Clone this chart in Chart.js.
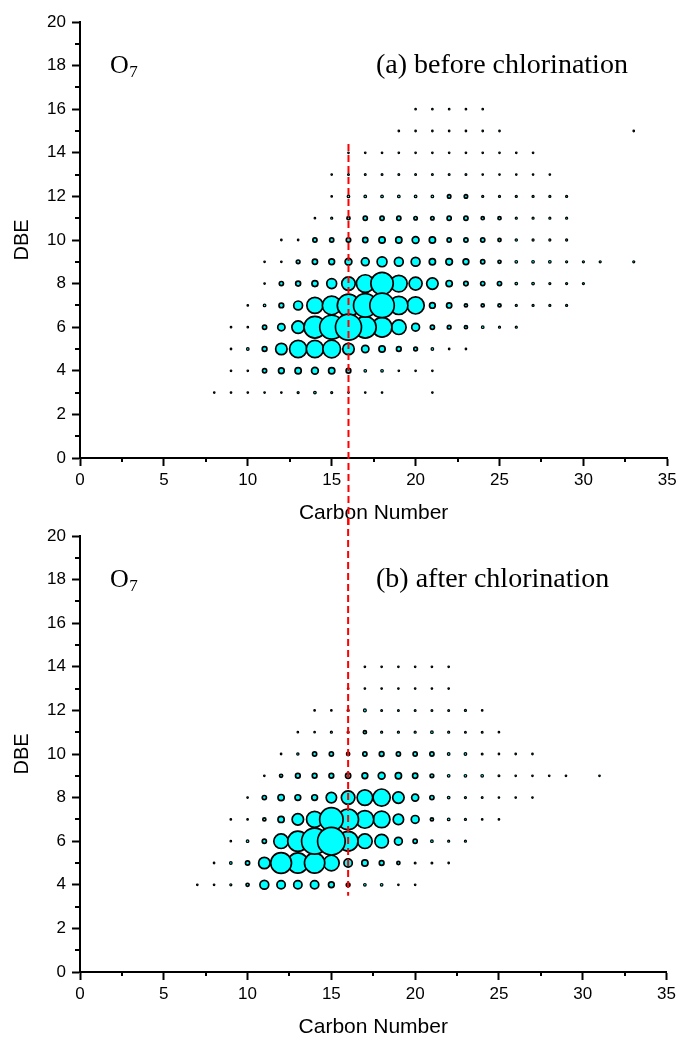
<!DOCTYPE html>
<html>
<head>
<meta charset="utf-8">
<script src="https://cdn.jsdelivr.net/npm/chart.js@4.4.1/dist/chart.umd.min.js"></script>
<style>
  body { margin: 0; background: #fff; width: 682px; height: 1040px; position: relative; overflow: hidden; }
  canvas { position: absolute; left: 0; }
  #before { top: 0; }
  #after { top: 514px; }
</style>
</head>
<body>
<canvas id="before" width="682" height="526"></canvas>
<canvas id="after" width="682" height="526"></canvas>
<script>
// O7 class: relative abundance by carbon number (x) and DBE (y)
// each row: [DBE, first carbon number, abundances...] (null = not detected)
const beforeRows = [
  [16, 20, [6, 6, 6, 6, 6]],
  [15, 19, [6, 6, 6, 6, 6, 6, 6, null, null, null, null, null, null, null, 6]],
  [14, 16, [6, 6, 6, 6, 6, 6, 6, 6, 6, 6, 6, 6]],
  [13, 15, [6, 7, 7, 7, 7, 7, 7, 7, 7, 6, 6, 6, 6, 6]],
  [12, 15, [6, 10, 10, 10, 10, 10, 10, 13, 13, 8, 8, 8, 8, 8, 8]],
  [11, 14, [6, 8, 12, 16, 16, 16, 13, 13, 16, 16, 12, 12, 8, 8, 8, 8]],
  [10, 12, [6, 6, 16, 16, 17, 20, 24, 24, 26, 24, 16, 16, 16, 12, 9, 8, 8, 8]],
  [9, 11, [6, 6, 14, 20, 22, 26, 30, 38, 34, 34, 24, 25, 22, 16, 12, 10, 10, 10, 8, 8, 8, null, 8]],
  [8, 11, [6, 16, 19, 23, 38, 52, 68, 86, 64, 50, 44, 24, 17, 16, 16, 10, 10, 8, 8, 8]],
  [7, 10, [6, 10, 18, 34, 62, 72, 86, 90, 94, 70, 66, 22, 20, 12, 12, 12, 8, 8, 8, 8]],
  [6, 9, [6, 6, 16, 28, 48, 84, 92, 100, 84, 76, 56, 30, 16, 14, 12, 10, 8, 8]],
  [5, 9, [6, 10, 18, 44, 66, 66, 68, 44, 28, 24, 18, 14, 10, 6, 6]],
  [4, 9, [6, 6, 16, 22, 24, 26, 24, 18, 10, 10, 6, 6, 6]],
  [3, 8, [6, 6, 6, 6, 6, 8, 10, 8, 6, 6, 6, null, null, 6]]
];

const afterRows = [
  [14, 17, [6, 6, 6, 6, 6, 6]],
  [13, 16, [6, 6, 6, 6, 6, 6, 6]],
  [12, 14, [6, 6, 8, 11, 7, 7, 7, 7, 7, 8, 6]],
  [11, 13, [6, 6, 8, 8, 12, 8, 8, 8, 10, 8, 7, 7, 6]],
  [10, 12, [6, 9, 16, 16, 12, 16, 18, 16, 16, 16, 10, 10, 7, 6, 6, 6]],
  [9, 11, [6, 12, 18, 18, 18, 20, 22, 26, 24, 20, 14, 10, 10, 10, 7, 6, 6, 6, 6, null, 6]],
  [8, 10, [6, 16, 24, 22, 22, 40, 52, 60, 66, 44, 27, 16, 10, 8, 7, 6, 6, 6]],
  [7, 9, [6, 6, 12, 24, 44, 62, 90, 80, 68, 64, 40, 30, 12, 10, 8, 6, 6]],
  [6, 9, [6, 10, 16, 56, 78, 100, 106, 76, 56, 52, 30, 16, 10, 8, 8]],
  [5, 8, [6, 10, 16, 44, 80, 78, 78, 60, 32, 24, 18, 12, 7, 7, 6]],
  [4, 7, [6, 6, 8, 12, 34, 32, 32, 32, 22, 14, 10, 10, 6, 6]]
];

const captions = ['(a) before chlorination', '(b) after chlorination'];
const carbonRange = [0, 35];
const dbeRange = [0, 20];
// dashed marker at C16, DBE span in each panel
const markerCarbon = 16;
const markerTopDBE = 14.4;
const markerBottomDBE = 3.5;

const RADIUS_SCALE = 0.13;
const PANEL_OFFSET = 514;

Chart.defaults.font.family = '"Liberation Sans", Arial, Helvetica, sans-serif';
Chart.defaults.color = '#000';

function toPoints(rows) {
  const pts = [];
  rows.forEach(function (row) {
    const dbe = row[0], c0 = row[1];
    row[2].forEach(function (v, i) {
      if (v != null) pts.push({ x: c0 + i, y: dbe, r: v * RADIUS_SCALE });
    });
  });
  // small ones first so the big bubbles sit on top
  return pts.sort(function (a, b) { return a.r - b.r; });
}

const decorations = {
  id: 'decorations',
  afterDraw(chart, args, opts) {
    const ctx = chart.ctx;
    const area = chart.chartArea;
    const x = chart.scales.x, y = chart.scales.y;
    ctx.save();

    // minor ticks
    ctx.strokeStyle = '#000';
    ctx.lineWidth = 2;
    ctx.beginPath();
    for (let v = 2.5; v < carbonRange[1]; v += 5) {
      const px = Math.round(x.getPixelForValue(v));
      ctx.moveTo(px, area.bottom);
      ctx.lineTo(px, area.bottom + 4);
    }
    for (let v = 1; v < dbeRange[1]; v += 2) {
      const py = Math.round(y.getPixelForValue(v));
      ctx.moveTo(area.left - 5, py);
      ctx.lineTo(area.left, py);
    }
    ctx.stroke();

    // red dashed line, continued from one panel into the next
    const lx = x.getPixelForValue(markerCarbon);
    const startTop = y.getPixelForValue(markerTopDBE);
    const y1 = opts.fromTop ? startTop : 0;
    const y2 = opts.fromTop ? chart.height : y.getPixelForValue(markerBottomDBE);
    ctx.strokeStyle = '#ff0000';
    ctx.lineWidth = 2;
    ctx.setLineDash([7, 4]);
    ctx.lineDashOffset = opts.fromTop ? 0 : (PANEL_OFFSET - startTop);
    ctx.beginPath();
    ctx.moveTo(lx, y1);
    ctx.lineTo(lx, y2);
    ctx.stroke();
    ctx.setLineDash([]);

    // class label and panel caption
    const baseY = area.top + 51;
    const ox = area.left + 30;
    ctx.fillStyle = '#000';
    ctx.textBaseline = 'alphabetic';
    ctx.textAlign = 'left';
    ctx.font = '26px "Liberation Serif", "Times New Roman", serif';
    ctx.fillText('O', ox, baseY);
    const ow = ctx.measureText('O').width;
    ctx.font = '17px "Liberation Serif", "Times New Roman", serif';
    ctx.fillText('7', ox + ow + 0.5, baseY + 4);
    ctx.font = '28px "Liberation Serif", "Times New Roman", serif';
    ctx.fillText(opts.caption, area.left + 296, baseY);

    ctx.restore();
  }
};

function makeChart(id, rows, caption, fromTop) {
  return new Chart(document.getElementById(id), {
    type: 'bubble',
    data: {
      datasets: [{
        data: toPoints(rows),
        backgroundColor: '#00ffff',
        borderColor: '#000',
        borderWidth: function (c) { return c.raw && c.raw.r < 1.5 ? 1.2 : 1.7; },
        hoverRadius: 0
      }]
    },
    options: {
      responsive: false,
      animation: false,
      devicePixelRatio: 1,
      layout: { padding: { top: 22, right: 12, left: 0, bottom: 0 } },
      plugins: {
        legend: { display: false },
        tooltip: { enabled: false },
        decorations: { caption: caption, fromTop: fromTop }
      },
      scales: {
        x: {
          type: 'linear',
          min: carbonRange[0],
          max: carbonRange[1],
          ticks: { stepSize: 5, font: { size: 17 }, color: '#000', padding: 4, maxRotation: 0 },
          grid: { drawOnChartArea: false, tickLength: 8, tickWidth: 2, tickColor: '#000' },
          border: { color: '#000', width: 2 },
          title: { display: true, text: 'Carbon Number', font: { size: 21 }, color: '#000', padding: { top: 0, bottom: 0 } },
          afterFit: function (s) { s.height = 68; }
        },
        y: {
          type: 'linear',
          min: dbeRange[0],
          max: dbeRange[1],
          ticks: { stepSize: 2, font: { size: 17 }, color: '#000', padding: 6 },
          grid: { drawOnChartArea: false, tickLength: 8, tickWidth: 2, tickColor: '#000' },
          border: { color: '#000', width: 2 },
          title: { display: true, text: 'DBE', font: { size: 20 }, color: '#000', padding: { top: 10, bottom: 0 } },
          afterFit: function (s) { s.width = 80; }
        }
      }
    },
    plugins: [decorations]
  });
}

makeChart('before', beforeRows, captions[0], true);
makeChart('after', afterRows, captions[1], false);
</script>
</body>
</html>
